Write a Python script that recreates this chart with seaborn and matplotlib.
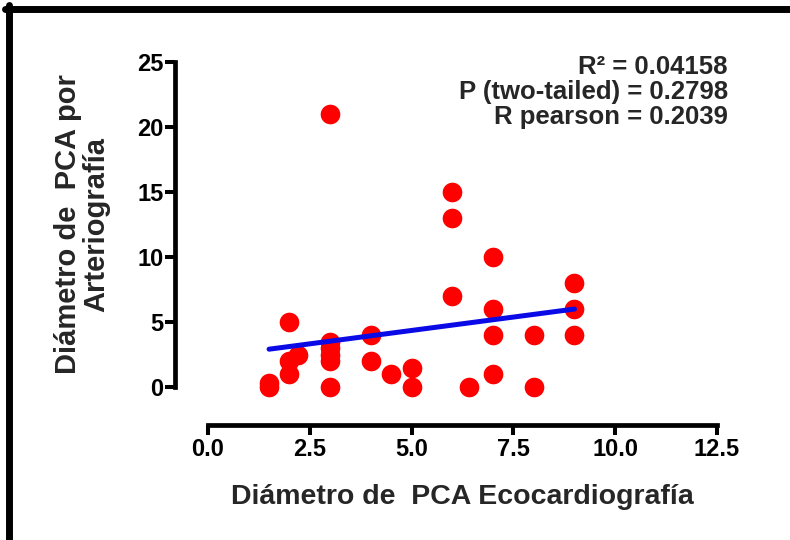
import numpy as np
import pandas as pd
import matplotlib
matplotlib.use('Agg')
import matplotlib.pyplot as plt
import seaborn as sns
from matplotlib.lines import Line2D

# diameters (30 patients)
eco = [1.5, 1.5, 2, 2, 2, 2.2, 3, 3, 3, 3, 3, 3, 4, 4, 4.5,
       5, 5, 6, 6, 6, 6.4, 7, 7, 7, 7, 8, 8, 9, 9, 9]
arterio = [0, 0.3, 5, 2, 1, 2.5, 21, 3.5, 3, 2.5, 2, 0, 4, 2, 1,
           1.5, 0, 15, 13, 7, 0, 10, 6, 4, 1, 4, 0, 8, 6, 4]

x_ticks = [0, 2.5, 5, 7.5, 10, 12.5]
x_ticklabels = ['0.0', '2.5', '5.0', '7.5', '10.0', '12.5']
y_ticks = [0, 5, 10, 15, 20, 25]

stats_lines = ['R² = 0.04158', 'P (two-tailed) = 0.2798', 'R pearson = 0.2039']

df = pd.DataFrame({'eco': eco, 'arterio': arterio})

sns.set_style('white')
plt.rcParams['font.family'] = ['Liberation Sans', 'DejaVu Sans']
plt.rcParams['font.weight'] = 'bold'

fig = plt.figure(figsize=(7.9, 5.4), dpi=100)
W, H = 790, 540
ax = fig.add_axes([208 / W, 1 - 387 / H, (717 - 208) / W, (387 - 62) / H])

sns.regplot(x='eco', y='arterio', data=df, ax=ax, ci=None,
            scatter_kws={'s': 200, 'color': '#ff0000', 'alpha': 1,
                         'linewidths': 0, 'clip_on': False, 'zorder': 2},
            line_kws={'color': '#0a0ae6', 'lw': 3.6, 'zorder': 3})

ax.set_xlim(0, 12.5)
ax.set_ylim(0, 25)
ax.set_xticks(x_ticks)
ax.set_xticklabels(x_ticklabels)
ax.set_yticks(y_ticks)

for side in ['top', 'right']:
    ax.spines[side].set_visible(False)
ax.spines['left'].set_position(('outward', 24))
ax.spines['bottom'].set_position(('outward', 27))
ax.spines['left'].set_bounds(0, 25)
ax.spines['bottom'].set_bounds(0, 12.5)
for side in ['left', 'bottom']:
    ax.spines[side].set_linewidth(3.4)
    ax.spines[side].set_color('black')
    ax.spines[side].set_capstyle('projecting')
ax.tick_params(axis='both', direction='out', length=7, width=2.9,
               labelsize=17, colors='black', bottom=True, left=True)
ax.tick_params(axis='y', pad=1)
ax.tick_params(axis='x', pad=3)
for lab in ax.get_xticklabels() + ax.get_yticklabels():
    lab.set_fontweight('bold')

ax.set_xlabel('Diámetro de  PCA Ecocardiografía', fontsize=20.5,
              fontweight='bold', va='center')
ax.xaxis.set_label_coords(0.5, (387 - 497) / 325)
ax.set_ylabel('Diámetro de  PCA por\nArteriografía', fontsize=21,
              fontweight='bold', va='center', ma='center', linespacing=1.0)
ax.yaxis.set_label_coords((82 - 208) / 509, 0.5)

for i, line in enumerate(stats_lines):
    ax.text((728 - 208) / 509, (387 - 66.5 - 25.2 * i) / 325, line,
            transform=ax.transAxes, ha='right', va='center',
            fontsize=18.5, fontweight='bold')

# frame lines at top and left of the image
fig.add_artist(Line2D([5 / W, 1], [1 - 8.5 / H, 1 - 8.5 / H],
                      color='black', lw=5, transform=fig.transFigure))
fig.add_artist(Line2D([8.5 / W, 8.5 / W], [0, 1 - 5 / H],
                      color='black', lw=5, transform=fig.transFigure))

fig.savefig('out.png', dpi=100, facecolor='white')
